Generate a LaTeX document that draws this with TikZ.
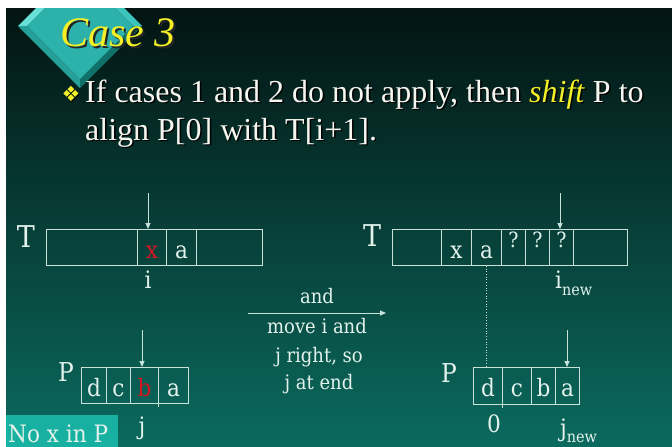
\documentclass[tikz,border=0pt]{standalone}
\usepackage{fontspec}
\setmainfont{Liberation Serif}
\newfontfamily\diafont{DejaVu Serif Condensed}
\newfontfamily\symfont{DejaVu Sans}
\usetikzlibrary{arrows.meta}

\definecolor{bgtop}{RGB}{3,20,18}
\definecolor{bgmid}{RGB}{13,80,70}
\definecolor{bgbot}{RGB}{11,106,94}
\definecolor{ink}{RGB}{200,226,218}
\definecolor{lbl}{RGB}{228,242,236}
\definecolor{hit}{RGB}{212,22,34}
\definecolor{gold}{RGB}{244,240,40}
\definecolor{bodytxt}{RGB}{246,246,240}
\definecolor{tagbox}{RGB}{24,176,160}
\definecolor{gemface}{RGB}{44,178,170}
\definecolor{gemlt}{RGB}{104,224,216}
\definecolor{gemmd}{RGB}{36,160,152}
\definecolor{gemdk}{RGB}{16,112,106}
\definecolor{gemtr}{RGB}{60,196,188}

% first bullet line; the argument colours the emphasised word
\newcommand\firstline[1]{If cases 1 and 2 do not apply, then \textcolor{#1}{\textit{shift}} P to}
% small font for the "new" subscripts
\newcommand\subfont{\diafont\fontsize{16}{18}\selectfont}
% unknown text character, set high in its cell
\newcommand\unk{\raisebox{11pt}{\fontsize{21}{22}\selectfont ?}}

\tikzset{
  cell/.style={draw=ink, line width=0.9pt, anchor=north west, inner sep=0pt,
    minimum height=36pt, text height=22pt, text depth=0pt,
    font=\diafont\fontsize{24}{26}\selectfont, text=lbl},
  ptr/.style={draw=ink, line width=0.9pt, -{Triangle[length=6pt,width=5pt]}},
  tag/.style={text=lbl, font=\diafont\fontsize{24}{26}\selectfont, inner sep=0pt, anchor=base},
  midtxt/.style={text=lbl, font=\diafont\fontsize{20}{22}\selectfont, inner sep=0pt, anchor=base},
  bigtxt/.style={font=\fontsize{32}{36}\selectfont, inner sep=0pt, anchor=base west},
}

\begin{document}
\begin{tikzpicture}[x=1pt,y=-1pt]
\useasboundingbox (0,0) rectangle (672,447);

% slide background
\fill[white] (0,0) rectangle (672,447);
\shade[top color=bgtop, middle color=bgmid, bottom color=bgbot] (6,8) rectangle (672,447);

% bevelled gem behind the title
\begin{scope}
  \clip (6,8) rectangle (672,447);
  \fill[gemlt] (18,26) -- (80,-36) -- (80,-27) -- (27,26) -- cycle;
  \fill[gemmd] (18,26) -- (80,88) -- (80,79) -- (27,26) -- cycle;
  \fill[gemdk] (80,88) -- (142,26) -- (133,26) -- (80,79) -- cycle;
  \fill[gemtr] (142,26) -- (80,-36) -- (80,-27) -- (133,26) -- cycle;
  \fill[gemface] (27,26) -- (80,79) -- (133,26) -- (80,-27) -- cycle;
\end{scope}

% title
\node[font=\fontsize{42}{46}\selectfont\itshape, text=black!85, inner sep=0pt, anchor=base west] (ttlsh) at (62,48) {Case 3};
\node[font=\fontsize{42}{46}\selectfont\itshape, text=gold, inner sep=0pt, anchor=base west] (ttl) at (60,46) {Case 3};

% bullet and its text
\node[font=\symfont\fontsize{21}{24}\selectfont, text=black, inner sep=0pt] (bulsh) at (72,95) {❖};
\node[font=\symfont\fontsize{21}{24}\selectfont, text=gold, inner sep=0pt] (bul) at (71,94) {❖};
\node[bigtxt, text=black] (l1sh) at (86.5,103.5) {\firstline{black}};
\node[bigtxt, text=bodytxt] (l1) at (85,102) {\firstline{gold}};
\node[bigtxt, text=black] (l2sh) at (86.5,141.5) {align P[0] with T[i+1].};
\node[bigtxt, text=bodytxt] (l2) at (85,140) {align P[0] with T[i+1].};

% ---- left: text before the shift
\node[tag, font=\diafont\fontsize{30}{32}\selectfont] (tl) at (26,247) {T};
\node[cell, minimum width=91pt] (lt1) at (46,229) {};
\node[cell, minimum width=29pt, text=hit] (lt2) at (137,229) {x};
\node[cell, minimum width=30pt] (lt3) at (166,229) {a};
\node[cell, minimum width=66pt] (lt4) at (196,229) {};
\coordinate (lta) at (148,193);
\draw[ptr] (lta) -- (lta |- lt2.north);
\node[tag] (li) at (148,288) {i};

\node[tag, font=\diafont\fontsize{26}{28}\selectfont] (pl) at (66,381) {P};
\node[cell, minimum width=25pt] (lp1) at (81,367) {d};
\node[cell, minimum width=24pt] (lp2) at (106,367) {c};
\node[cell, minimum width=28pt, text=hit] (lp3) at (130,367) {b};
\node[cell, minimum width=30pt] (lp4) at (158,367) {a};
\draw[draw=ink, line width=0.9pt] (lp4.south west) -- ++(0,3);
\coordinate (lpa) at (142,330);
\draw[ptr] (lpa) -- (lpa |- lp3.north);
\node[tag] (lj) at (142,434) {j};

% ---- middle: the move
\coordinate (ms) at (248,313);
\coordinate (me) at (386,313);
\draw[ptr] (ms) -- (me);
\node[midtxt] (m0) at (317,303) {and};
\node[midtxt] (m1) at (317,333) {move i and};
\node[midtxt] (m2) at (319,362) {j right, so};
\node[midtxt] (m3) at (319,389) {j at end};

% ---- right: text after the shift
\node[tag, font=\diafont\fontsize{30}{32}\selectfont] (tr) at (372,246) {T};
\node[cell, minimum width=49pt] (rt1) at (392,229) {};
\node[cell, minimum width=30pt] (rt2) at (441,229) {x};
\node[cell, minimum width=30pt] (rt3) at (471,229) {a};
\node[cell, minimum width=24pt] (rt4) at (501,229) {\unk};
\node[cell, minimum width=24pt] (rt5) at (525,229) {\unk};
\node[cell, minimum width=24pt] (rt6) at (549,229) {\unk};
\node[cell, minimum width=54pt] (rt7) at (573,229) {};
\coordinate (rta) at (560,193);
\draw[ptr] (rta) -- (rta |- rt6.north);
\node[tag, anchor=base west] (ri) at (555,288) {i\raisebox{-7pt}{\subfont new}};

\node[tag, font=\diafont\fontsize{26}{28}\selectfont] (pr) at (449,382) {P};
\node[cell, minimum width=29pt, minimum height=37pt] (rp1) at (473,367) {d};
\node[cell, minimum width=29pt, minimum height=37pt] (rp2) at (502,367) {c};
\node[cell, minimum width=24pt, minimum height=37pt] (rp3) at (531,367) {b};
\node[cell, minimum width=24pt, minimum height=37pt] (rp4) at (555,367) {a};
\draw[draw=ink, line width=0.9pt] (rp2.south west) -- ++(0,3);
\draw[draw=ink, line width=0.7pt, dotted] (rt3.south) -- (rt3.south |- rp1.north);
\coordinate (rpa) at (567,330);
\draw[ptr] (rpa) -- (rpa |- rp4.north);
\node[tag] (r0) at (494,432) {0};
\node[tag, anchor=base west] (rj) at (560,436) {j\raisebox{-6pt}{\subfont new}};

% caption tag
\fill[tagbox] (6,415) rectangle (118,447);
\node[text=lbl, font=\diafont\fontsize{24}{26}\selectfont, inner sep=0pt, anchor=base west] (nox) at (8,442) {No x in P};
\end{tikzpicture}
\end{document}
